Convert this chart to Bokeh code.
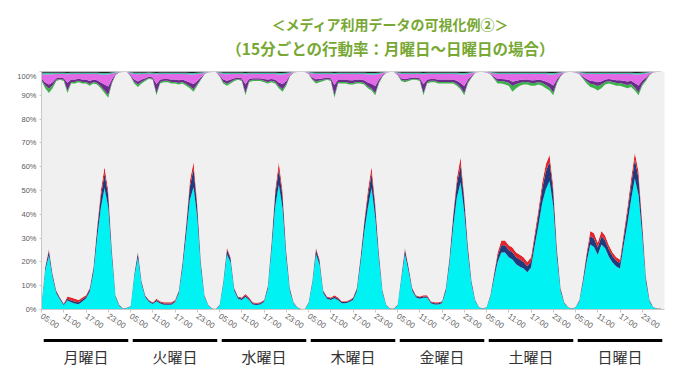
import numpy as np
from bokeh.plotting import figure
from bokeh.models import ColumnDataSource, Range1d, FixedTicker
from bokeh.layouts import column
from bokeh.core.properties import value
from bokeh.embed import file_html
from bokeh.resources import INLINE

TITLE_1 = "＜メディア利用データの可視化例②＞"
TITLE_2 = "（15分ごとの行動率：月曜日～日曜日の場合）"
DAYS = ["月曜日", "火曜日", "水曜日", "木曜日", "金曜日", "土曜日", "日曜日"]
TIME_LABELS = ["05:00", "11:00", "17:00", "23:00"]
Y_TICKS = [0, 10, 20, 30, 40, 50, 60, 70, 80, 90, 100]
HOURS_PER_DAY = 24

# hourly shares (%) from 05:00 to 04:00 of the next day, Monday .. Sunday
CYAN = [
    2.4, 16.3, 22.7, 13.3, 6.8, 4.1, 1.8, 3.8, 3.0, 2.5, 2.2, 3.4, 4.6, 7.5, 15.4, 30.0, 42.5, 51.0, 43.0, 21.5, 5.1, 1.5, 0.3, 0.6,
    1.2, 13.6, 21.9, 10.6, 5.1, 3.2, 2.3, 3.5, 2.5, 2.0, 2.0, 2.0, 3.0, 6.7, 17.2, 31.0, 46.0, 51.5, 38.5, 17.2, 5.1, 1.7, 0.3, 0.1,
    1.6, 10.5, 23.2, 19.8, 7.8, 4.5, 4.0, 5.2, 3.9, 2.1, 1.9, 2.1, 3.1, 8.5, 24.5, 43.0, 52.5, 42.5, 21.5, 7.5, 2.5, 0.8, 0.1, 0.1,
    2.5, 10.6, 23.2, 18.8, 6.8, 4.5, 4.0, 4.7, 3.9, 2.6, 2.6, 3.1, 4.0, 7.5, 19.0, 32.0, 42.5, 51.0, 38.5, 20.8, 6.8, 1.7, 0.3, 0.3,
    1.6, 12.6, 23.2, 16.0, 7.8, 5.0, 4.5, 4.9, 4.9, 2.6, 2.1, 2.1, 2.6, 7.5, 19.0, 34.5, 47.0, 53.5, 41.0, 23.3, 10.3, 3.4, 0.8, 0.3,
    0.8, 5.1, 12.7, 20.0, 24.0, 24.0, 22.0, 21.0, 19.0, 18.0, 17.2, 15.6, 17.6, 26.8, 35.3, 44.5, 50.5, 54.0, 43.5, 21.8, 7.5, 2.5, 0.8, 0.3,
    0.8, 3.3, 10.9, 20.0, 27.3, 26.3, 23.0, 27.3, 25.7, 22.2, 19.8, 18.1, 17.2, 27.0, 36.0, 46.2, 55.0, 48.0, 31.0, 11.5, 3.2, 0.8, 0.3, 0.3,
]
NAVY = [
    0.4, 1.2, 2.0, 1.2, 0.8, 0.6, 0.4, 0.7, 0.8, 0.8, 0.8, 0.8, 0.8, 1.0, 1.8, 3.5, 5.0, 6.0, 5.0, 2.5, 0.6, 0.3, 0.1, 0.1,
    0.2, 1.0, 2.0, 1.0, 0.6, 0.5, 0.4, 0.5, 0.5, 0.5, 0.5, 0.5, 0.5, 0.8, 2.0, 3.5, 5.5, 7.5, 4.5, 2.0, 0.6, 0.2, 0.1, 0.1,
    0.3, 1.0, 2.0, 1.5, 0.8, 0.6, 0.6, 0.7, 0.6, 0.5, 0.5, 0.5, 0.5, 1.0, 2.5, 5.0, 6.5, 5.0, 2.5, 1.0, 0.3, 0.1, 0.1, 0.1,
    0.3, 1.0, 2.0, 1.5, 0.8, 0.6, 0.6, 0.7, 0.6, 0.5, 0.5, 0.5, 0.6, 1.0, 2.0, 3.5, 5.0, 6.0, 4.5, 2.2, 0.8, 0.2, 0.1, 0.1,
    0.3, 1.0, 2.0, 1.4, 0.8, 0.6, 0.6, 0.6, 0.6, 0.5, 0.5, 0.5, 0.5, 1.0, 2.0, 4.0, 5.5, 7.0, 5.0, 2.5, 1.2, 0.4, 0.1, 0.1,
    0.1, 0.6, 1.5, 2.5, 3.0, 3.0, 3.0, 3.0, 3.0, 3.0, 2.8, 2.6, 2.6, 3.2, 4.5, 6.0, 7.5, 8.0, 6.0, 3.0, 1.0, 0.3, 0.1, 0.1,
    0.1, 0.4, 1.3, 2.5, 3.5, 3.5, 3.0, 3.5, 3.3, 3.0, 2.6, 2.4, 2.3, 3.0, 4.5, 6.0, 8.0, 7.0, 4.0, 1.5, 0.5, 0.1, 0.1, 0.1,
]
RED = [
    0.2, 0.5, 0.8, 0.5, 0.4, 0.3, 0.3, 1.0, 1.2, 1.2, 1.0, 0.8, 0.6, 0.5, 0.8, 1.5, 2.5, 3.0, 2.0, 1.0, 0.3, 0.2, 0.1, 0.1,
    0.1, 0.4, 0.6, 0.4, 0.3, 0.3, 0.3, 0.5, 0.5, 0.5, 0.5, 0.5, 0.5, 0.5, 0.8, 1.5, 2.5, 3.0, 2.0, 0.8, 0.3, 0.1, 0.1, 0.1,
    0.1, 0.5, 0.8, 0.7, 0.4, 0.4, 0.4, 0.6, 0.5, 0.4, 0.4, 0.4, 0.4, 0.5, 1.0, 2.0, 3.0, 2.5, 1.0, 0.5, 0.2, 0.1, 0.1, 0.1,
    0.2, 0.4, 0.8, 0.7, 0.4, 0.4, 0.4, 0.6, 0.5, 0.4, 0.4, 0.4, 0.4, 0.5, 1.0, 1.5, 2.5, 3.0, 2.0, 1.0, 0.4, 0.1, 0.1, 0.1,
    0.1, 0.4, 0.8, 0.6, 0.4, 0.4, 0.4, 0.5, 0.5, 0.4, 0.4, 0.4, 0.4, 0.5, 1.0, 1.5, 2.5, 3.5, 2.0, 1.2, 0.5, 0.2, 0.1, 0.1,
    0.1, 0.3, 0.8, 1.5, 2.0, 2.0, 2.0, 2.0, 2.0, 2.0, 2.0, 1.8, 1.8, 2.0, 2.2, 2.5, 3.0, 3.0, 2.5, 1.2, 0.5, 0.2, 0.1, 0.1,
    0.1, 0.3, 0.8, 1.5, 2.2, 2.2, 2.0, 2.2, 2.0, 1.8, 1.6, 1.5, 1.5, 2.0, 2.5, 2.8, 3.0, 3.0, 2.0, 1.0, 0.3, 0.1, 0.1, 0.1,
]
# layers hanging from the 100% line (top to bottom: black, teal, magenta, purple, green)
BLACK = [
    0.5, 0.5, 0.5, 0.5, 0.5, 0.5, 0.5, 0.6, 0.5, 0.5, 0.5, 0.5, 0.5, 0.5, 0.5, 0.5, 0.6, 0.6, 0.6, 0.4, 0.2, 0.1, 0.1, 0.1,
    0.3, 0.5, 0.5, 0.5, 0.5, 0.4, 0.5, 0.6, 0.5, 0.5, 0.5, 0.5, 0.5, 0.5, 0.5, 0.5, 0.6, 0.6, 0.5, 0.4, 0.2, 0.1, 0.1, 0.1,
    0.3, 0.5, 0.5, 0.5, 0.5, 0.5, 0.5, 0.6, 0.5, 0.5, 0.5, 0.5, 0.5, 0.5, 0.5, 0.5, 0.6, 0.6, 0.5, 0.3, 0.1, 0.1, 0.1, 0.1,
    0.2, 0.4, 0.5, 0.5, 0.5, 0.5, 0.5, 0.6, 0.5, 0.5, 0.5, 0.5, 0.5, 0.5, 0.5, 0.5, 0.6, 0.6, 0.6, 0.5, 0.3, 0.1, 0.1, 0.1,
    0.3, 0.5, 0.5, 0.5, 0.5, 0.5, 0.5, 0.6, 0.5, 0.5, 0.5, 0.5, 0.5, 0.5, 0.5, 0.5, 0.5, 0.6, 0.6, 0.5, 0.3, 0.1, 0.1, 0.1,
    0.1, 0.2, 0.4, 0.5, 0.5, 0.5, 0.5, 0.5, 0.5, 0.5, 0.5, 0.5, 0.5, 0.5, 0.5, 0.5, 0.5, 0.6, 0.6, 0.5, 0.3, 0.1, 0.1, 0.1,
    0.1, 0.2, 0.4, 0.5, 0.5, 0.5, 0.5, 0.5, 0.5, 0.5, 0.5, 0.5, 0.5, 0.5, 0.5, 0.5, 0.6, 0.6, 0.5, 0.4, 0.2, 0.1, 0.1, 0.1,
]
TEAL = [
    0.6, 0.8, 0.8, 0.7, 0.6, 0.5, 0.5, 0.6, 0.6, 0.6, 0.5, 0.6, 0.6, 0.6, 0.6, 0.6, 0.7, 0.7, 0.7, 0.5, 0.3, 0.1, 0.05, 0.05,
    0.4, 0.6, 0.7, 0.6, 0.6, 0.5, 0.5, 0.6, 0.6, 0.6, 0.6, 0.6, 0.6, 0.6, 0.6, 0.6, 0.7, 0.7, 0.6, 0.5, 0.2, 0.1, 0.05, 0.05,
    0.4, 0.6, 0.7, 0.6, 0.6, 0.5, 0.5, 0.6, 0.5, 0.5, 0.5, 0.5, 0.5, 0.6, 0.5, 0.6, 0.7, 0.7, 0.6, 0.3, 0.1, 0.05, 0.05, 0.05,
    0.2, 0.5, 0.6, 0.6, 0.6, 0.5, 0.5, 0.6, 0.6, 0.6, 0.6, 0.6, 0.6, 0.6, 0.6, 0.6, 0.7, 0.7, 0.7, 0.6, 0.3, 0.1, 0.05, 0.05,
    0.3, 0.6, 0.6, 0.6, 0.5, 0.5, 0.5, 0.6, 0.6, 0.6, 0.6, 0.6, 0.6, 0.6, 0.6, 0.6, 0.6, 0.7, 0.7, 0.6, 0.3, 0.1, 0.05, 0.05,
    0.1, 0.2, 0.5, 0.6, 0.6, 0.6, 0.6, 0.6, 0.6, 0.6, 0.6, 0.6, 0.6, 0.6, 0.6, 0.6, 0.6, 0.7, 0.7, 0.6, 0.3, 0.1, 0.05, 0.05,
    0.1, 0.2, 0.5, 0.6, 0.6, 0.6, 0.6, 0.6, 0.6, 0.6, 0.6, 0.6, 0.6, 0.6, 0.6, 0.6, 0.7, 0.7, 0.6, 0.5, 0.2, 0.1, 0.05, 0.05,
]
MAGENTA = [
    1.7, 3.3, 4.2, 3.3, 1.7, 1.5, 1.8, 3.5, 2.3, 2.3, 2.0, 2.3, 2.3, 2.9, 2.3, 2.6, 3.3, 4.2, 5.0, 2.4, 0.6, 0.05, 0.03, 0.03,
    0.8, 2.3, 3.0, 2.3, 1.7, 1.2, 1.5, 4.0, 2.3, 2.0, 2.0, 2.3, 2.3, 2.6, 2.3, 2.9, 3.3, 4.0, 2.9, 1.5, 0.4, 0.05, 0.03, 0.03,
    0.8, 2.3, 2.7, 2.3, 1.7, 1.5, 1.8, 4.2, 2.0, 1.8, 1.8, 1.8, 2.1, 2.3, 2.1, 2.3, 3.3, 4.0, 2.9, 0.9, 0.2, 0.03, 0.03, 0.03,
    0.4, 1.5, 2.2, 1.9, 1.7, 1.5, 1.8, 4.5, 2.3, 2.3, 2.3, 2.6, 2.6, 2.3, 2.3, 2.6, 3.3, 3.8, 4.8, 2.3, 0.8, 0.2, 0.03, 0.03,
    0.6, 1.7, 2.0, 1.7, 1.5, 1.5, 1.8, 4.2, 2.3, 2.0, 2.0, 2.3, 2.3, 2.3, 2.3, 2.3, 2.8, 3.5, 4.8, 2.3, 1.1, 0.2, 0.03, 0.03,
    0.2, 0.4, 1.2, 2.0, 2.0, 2.2, 2.4, 3.2, 2.8, 2.5, 2.3, 2.3, 2.6, 2.6, 2.3, 2.6, 3.1, 3.5, 4.6, 2.2, 0.8, 0.2, 0.03, 0.03,
    0.2, 0.4, 1.2, 2.0, 2.8, 3.0, 3.4, 3.0, 2.3, 2.1, 2.3, 2.6, 2.6, 2.8, 3.1, 2.8, 3.5, 4.6, 2.7, 1.7, 0.6, 0.05, 0.03, 0.03,
]
PURPLE = [
    0.7, 1.3, 1.8, 1.3, 0.7, 0.6, 0.7, 3.3, 1.0, 1.0, 0.9, 1.0, 1.0, 1.3, 1.0, 1.1, 1.6, 2.5, 3.6, 1.1, 0.3, 0.03, 0.01, 0.01,
    0.3, 0.9, 1.3, 0.9, 0.7, 0.5, 0.6, 3.8, 1.0, 0.8, 0.8, 1.0, 1.0, 1.1, 1.0, 1.2, 1.6, 2.2, 1.3, 0.7, 0.15, 0.03, 0.01, 0.01,
    0.3, 0.9, 1.2, 0.9, 0.7, 0.6, 0.7, 3.6, 0.9, 0.7, 0.7, 0.7, 0.8, 1.0, 0.8, 0.9, 1.6, 2.2, 1.3, 0.3, 0.07, 0.01, 0.01, 0.01,
    0.1, 0.6, 0.9, 0.8, 0.7, 0.6, 0.7, 4.2, 1.0, 1.0, 1.0, 1.1, 1.1, 1.0, 1.0, 1.1, 1.6, 2.0, 2.9, 1.0, 0.4, 0.07, 0.01, 0.01,
    0.2, 0.7, 0.8, 0.7, 0.6, 0.6, 0.7, 3.6, 1.0, 0.8, 0.8, 1.0, 1.0, 1.0, 1.0, 1.0, 1.3, 1.8, 2.9, 1.0, 0.5, 0.07, 0.01, 0.01,
    0.05, 0.1, 0.5, 0.9, 0.9, 1.0, 1.2, 1.8, 1.4, 1.2, 1.0, 1.0, 1.1, 1.1, 1.0, 1.1, 1.5, 1.8, 2.9, 1.0, 0.4, 0.07, 0.01, 0.01,
    0.05, 0.1, 0.5, 0.9, 1.2, 1.4, 1.6, 1.4, 1.0, 0.9, 1.0, 1.1, 1.1, 1.3, 1.5, 1.3, 1.9, 2.9, 1.3, 0.8, 0.3, 0.03, 0.01, 0.01,
]
GREEN = [
    0.5, 1.1, 1.7, 1.2, 0.5, 0.4, 0.5, 1.0, 0.6, 0.6, 0.6, 0.6, 0.6, 0.7, 0.6, 0.7, 0.8, 1.0, 1.1, 0.6, 0.1, 0.02, 0.01, 0.01,
    0.2, 0.7, 1.0, 0.7, 0.5, 0.4, 0.4, 1.0, 0.6, 0.6, 0.6, 0.6, 0.6, 0.7, 0.6, 0.8, 0.8, 1.0, 0.7, 0.4, 0.05, 0.02, 0.01, 0.01,
    0.2, 0.7, 0.9, 0.7, 0.5, 0.4, 0.5, 1.0, 0.6, 0.5, 0.5, 0.5, 0.6, 0.6, 0.6, 0.7, 0.8, 1.0, 0.7, 0.2, 0.03, 0.01, 0.01, 0.01,
    0.1, 0.5, 0.8, 0.7, 0.5, 0.4, 0.5, 1.1, 0.6, 0.6, 0.6, 0.7, 0.7, 0.6, 0.6, 0.7, 0.8, 0.9, 1.0, 0.6, 0.2, 0.03, 0.01, 0.01,
    0.1, 0.5, 0.6, 0.5, 0.4, 0.4, 0.5, 1.0, 0.6, 0.6, 0.6, 0.6, 0.6, 0.6, 0.6, 0.6, 0.8, 0.9, 1.0, 0.6, 0.3, 0.03, 0.01, 0.01,
    0.05, 0.1, 0.4, 1.0, 1.0, 1.2, 1.3, 2.4, 1.7, 1.2, 1.1, 1.1, 1.2, 1.2, 1.1, 1.2, 1.3, 1.4, 1.2, 0.7, 0.2, 0.03, 0.01, 0.01,
    0.05, 0.1, 0.4, 1.0, 1.4, 1.5, 1.9, 1.5, 1.1, 0.9, 1.1, 1.2, 1.2, 1.3, 1.3, 1.3, 1.3, 1.2, 0.9, 0.6, 0.2, 0.02, 0.01, 0.01,
]

n_points = len(CYAN)
x = np.arange(n_points)
layers = {
    "cyan": np.array(CYAN), "navy": np.array(NAVY), "red": np.array(RED),
    "green": np.array(GREEN), "purple": np.array(PURPLE), "magenta": np.array(MAGENTA),
    "teal": np.array(TEAL), "black": np.array(BLACK),
}
total = sum(layers.values())
layers["gray"] = 100.0 - total
order = ["cyan", "navy", "red", "gray", "green", "purple", "magenta", "teal", "black"]
colors = ["#00f2f2", "#1f3b7e", "#e3262b", "#f0f0f0", "#3db24c", "#6b2c8c", "#e26ae6", "#3fc2a8", "#222222"]
src = ColumnDataSource(dict(x=x, **layers))

n_days = len(DAYS)
x_end = n_days * HOURS_PER_DAY
FULL_W = 692
TOP_H = 71

# title strip
pt = figure(frame_width=FULL_W, frame_height=TOP_H, x_range=Range1d(0, FULL_W), y_range=Range1d(0, TOP_H),
            output_backend="svg", toolbar_location=None, x_axis_type=None, y_axis_type=None,
            min_border=0, outline_line_color=None, background_fill_color="white", border_fill_color="white")
pt.xgrid.visible = False
pt.ygrid.visible = False
title_kw = dict(text_align="center", text_baseline="middle", text_font_style="bold",
                text_color="#77a833", text_font=value("Noto Sans CJK JP"))
pt.text(x=[349], y=[TOP_H - 23], text=[TITLE_1], text_font_size="14px", **title_kw)
pt.text(x=[349], y=[TOP_H - 47], text=[TITLE_2], text_font_size="15.5px", **title_kw)

# main chart
p = figure(frame_width=623, frame_height=238, x_range=Range1d(0, x_end), y_range=Range1d(0, 100),
           output_backend="svg", toolbar_location=None,
           min_border_left=41, min_border_right=28, min_border_top=0, min_border_bottom=28,
           background_fill_color="#f0f0f0", border_fill_color="white", outline_line_color=None)
p.varea_stack(stackers=order, x="x", color=colors, source=src)
p.xgrid.visible = False
p.ygrid.visible = False

step = HOURS_PER_DAY // len(TIME_LABELS)
ticks = [d * HOURS_PER_DAY + k * step for d in range(n_days) for k in range(len(TIME_LABELS))]
p.xaxis.ticker = FixedTicker(ticks=ticks)
p.xaxis.major_label_overrides = {t: TIME_LABELS[i % len(TIME_LABELS)] for i, t in enumerate(ticks)}
p.xaxis.major_label_orientation = -0.6
p.xaxis.major_label_text_font_size = "8px"
p.xaxis.major_label_text_color = "#5a5a5a"
p.xaxis.major_label_text_font = "Liberation Sans"
p.xaxis.axis_line_color = "#c8c8c8"
p.xaxis.major_tick_line_color = "#c8c8c8"
p.xaxis.major_tick_in = 0
p.xaxis.major_tick_out = 3
p.xaxis.minor_tick_line_color = None
p.xaxis.major_label_standoff = 3

p.yaxis.ticker = FixedTicker(ticks=Y_TICKS)
p.yaxis.major_label_overrides = {v: f"{v}%" for v in Y_TICKS}
p.yaxis.major_label_text_font_size = "7.5px"
p.yaxis.major_label_text_color = "#5a5a5a"
p.yaxis.major_label_text_font = "Liberation Sans"
p.yaxis.axis_line_color = "#c8c8c8"
p.yaxis.major_tick_line_color = "#c8c8c8"
p.yaxis.major_tick_in = 0
p.yaxis.major_tick_out = 2
p.yaxis.minor_tick_line_color = None
p.yaxis.major_label_standoff = 3

# day labels with bars underneath the time axis
p2 = figure(frame_width=623, frame_height=29, x_range=p.x_range, y_range=Range1d(0, 1),
            output_backend="svg", toolbar_location=None, x_axis_type=None, y_axis_type=None,
            min_border_left=41, min_border_right=28, min_border_top=0, min_border_bottom=0,
            outline_line_color=None, background_fill_color="white", border_fill_color="white")
p2.xgrid.visible = False
p2.ygrid.visible = False
day_start = [d * HOURS_PER_DAY for d in range(n_days)]
p2.segment(x0=[s + 0.6 for s in day_start], y0=[0.9] * n_days,
           x1=[s + HOURS_PER_DAY - 0.6 for s in day_start], y1=[0.9] * n_days,
           line_color="black", line_width=3)
p2.text(x=[s + HOURS_PER_DAY / 2 for s in day_start], y=[0.36] * n_days, text=DAYS,
        text_align="center", text_baseline="middle", text_font=value("Noto Sans CJK JP"),
        text_font_size="15px", text_color="#333333")

layout = column(pt, p, p2)
open("out.html", "w").write(file_html(layout, INLINE))
